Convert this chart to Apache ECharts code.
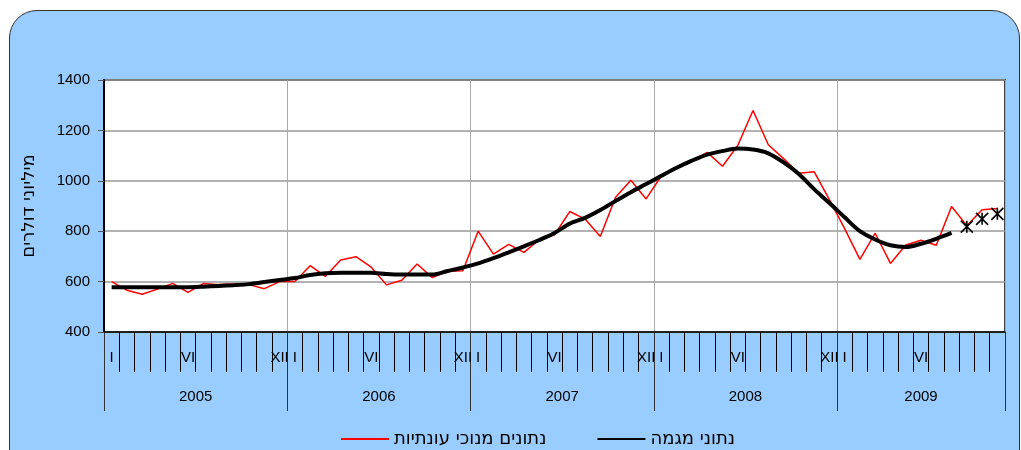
<!DOCTYPE html>
<html>
<head>
<meta charset="utf-8">
<script src="https://cdn.jsdelivr.net/npm/echarts@6/dist/echarts.min.js"></script>
<style>
body { margin: 0; background: #fff; }
#frame {
    position: absolute; left: 9px; top: 10px;
    width: 1009px; height: 470px;
    border: 1.5px solid #333; border-radius: 28px;
    background: #99ccff;
}
#main { position: absolute; left: 0; top: 0; width: 1021px; height: 450px; }
</style>
</head>
<body>
<div id="frame"></div>
<div id="main"></div>
<script>
// years and how many months each one has on the axis
const years = ['2005', '2006', '2007', '2008', '2009'];
const monthsInYear = [12, 12, 12, 12, 11];
// month tick labels (month number -> roman label)
const monthLabels = { 1: 'I', 6: 'VI', 12: 'XII' };

// נתונים מנוכי עונתיות
const seasonal = [
    600, 566, 550, 570, 593, 557, 592, 588, 590, 588, 572, 600,
    600, 663, 621, 686, 699, 657, 587, 605, 670, 616, 641, 643,
    800, 709, 748, 716, 766, 786, 878, 848, 779, 935, 1002, 928,
    1020, 1053, 1080, 1113, 1058, 1140, 1279, 1143, 1088, 1030, 1036, 925,
    810, 688, 792, 672, 745, 764, 744, 898, 822, 885, 890
];
// נתוני מגמה
const trend = [
    578, 578, 578, 578, 578, 578, 580, 583, 586, 590, 598, 606,
    614, 626, 633, 635, 635, 635, 630, 628, 628, 628, 642, 656,
    672, 693, 716, 740, 765, 793, 830, 853, 884, 920, 955, 987,
    1020, 1052, 1080, 1104, 1118, 1128, 1124, 1109, 1073, 1027, 967, 912,
    855, 800, 767, 744, 737, 750, 770, 793, null, null, null
];
// trend estimate for the last months (asterisks)
const trendEstimate = [
    null, null, null, null, null, null, null, null, null, null, null, null,
    null, null, null, null, null, null, null, null, null, null, null, null,
    null, null, null, null, null, null, null, null, null, null, null, null,
    null, null, null, null, null, null, null, null, null, null, null, null,
    null, null, null, null, null, null, null, null, 818, 849, 869
];

const FONT = "'Liberation Sans', Arial, sans-serif";
const HEB_FONT = "'DejaVu Sans', sans-serif";

// build categories + label per month
let categories = [];
let catLabels = [];
let yearStart = [];
let yearMid = [];
let pos = 0;
years.forEach(function (y, k) {
    yearStart.push(pos);
    yearMid.push(pos + monthsInYear[k] / 2);
    for (let m = 1; m <= monthsInYear[k]; m++) {
        categories.push(y + '-' + m);
        catLabels.push(monthLabels[m] || '');
    }
    pos += monthsInYear[k];
});
const total = pos;

let chart = echarts.init(document.getElementById('main'));

let option = {
    animation: false,
    textStyle: { fontFamily: FONT },
    grid: {
        left: 104, right: 16, top: 80, bottom: 118,
        show: true,
        backgroundColor: '#fff',
        borderColor: '#000',
        borderWidth: 1.5
    },
    legend: {
        left: 335,
        top: 425,
        itemWidth: 48,
        itemHeight: 14,
        itemGap: 50,
        itemStyle: { color: 'transparent', borderColor: 'transparent', borderWidth: 0 },
        textStyle: { fontSize: 18, color: '#000', fontFamily: HEB_FONT },
        data: ['נתונים מנוכי עונתיות', 'נתוני מגמה']
    },
    xAxis: [
        {
            type: 'category',
            data: categories,
            boundaryGap: true,
            axisLine: { show: true, lineStyle: { color: '#000', width: 1.5 } },
            axisTick: { show: true, interval: 0, length: 40, lineStyle: { color: '#000', width: 1 } },
            axisLabel: {
                interval: 0,
                hideOverlap: false,
                margin: 18,
                fontSize: 15,
                color: '#000',
                formatter: function (v, i) { return catLabels[i]; }
            },
            splitLine: {
                show: true,
                interval: function (i) { return yearStart.indexOf(i) >= 0; },
                lineStyle: { color: '#aaa', width: 1 }
            }
        },
        {
            type: 'value',
            position: 'bottom',
            min: 0,
            max: total,
            axisLine: { show: false },
            axisTick: {
                show: true,
                length: 79,
                customValues: yearStart.concat([total]),
                lineStyle: { color: '#333', width: 1 }
            },
            axisLabel: {
                margin: 57,
                fontSize: 15,
                color: '#000',
                customValues: yearMid,
                formatter: function (v) { return years[yearMid.indexOf(v)]; }
            },
            splitLine: { show: false }
        }
    ],
    yAxis: {
        type: 'value',
        min: 400,
        max: 1400,
        interval: 200,
        name: 'מיליוני דולרים',
        nameLocation: 'middle',
        nameRotate: 90,
        nameGap: 66,
        nameTextStyle: { fontSize: 18, color: '#000', fontFamily: HEB_FONT },
        axisLine: { show: true, lineStyle: { color: '#000', width: 2 } },
        axisTick: { show: true, length: 6, lineStyle: { color: '#555' } },
        axisLabel: { fontSize: 15, color: '#000', margin: 14, formatter: function (v) { return String(v); } },
        splitLine: { lineStyle: { color: '#999', width: 1.5 } }
    },
    series: [
        {
            name: 'נתונים מנוכי עונתיות',
            type: 'line',
            data: seasonal,
            symbol: 'none',
            lineStyle: { color: '#ff0000', width: 1.5 },
            itemStyle: { color: '#ff0000' }
        },
        {
            name: 'נתוני מגמה',
            type: 'line',
            data: trend,
            symbol: 'none',
            smooth: 0.3,
            lineStyle: { color: '#000', width: 4 },
            itemStyle: { color: '#000' }
        },
        {
            name: 'estimate',
            type: 'scatter',
            data: trendEstimate,
            symbol: 'path://M0,0L10,10M10,0L0,10M5,0L5,10',
            symbolSize: 12,
            z: 5,
            itemStyle: { color: 'transparent', borderColor: '#000', borderWidth: 1.6, opacity: 1 }
        }
    ]
};
chart.setOption(option);
</script>
</body>
</html>
